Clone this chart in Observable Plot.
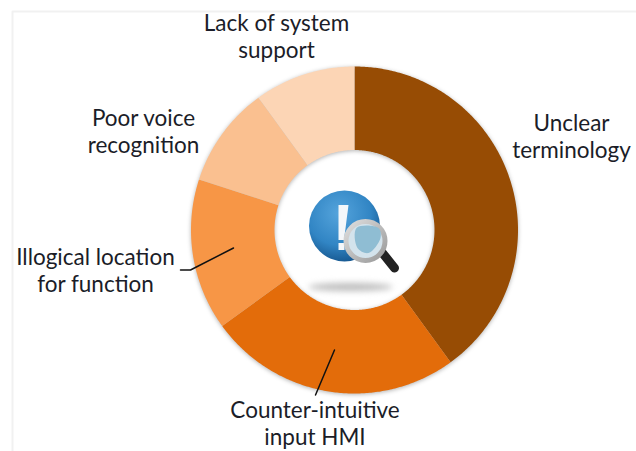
<!DOCTYPE html>
<html>
<head>
<meta charset="utf-8">
<style>html,body{margin:0;padding:0;background:#fff}svg{display:block}</style>
<script src="https://cdn.jsdelivr.net/npm/d3@7"></script>
<script src="https://cdn.jsdelivr.net/npm/@observablehq/plot@0.6"></script>
</head>
<body>
<script>
// Data
const categories = ["Unclear terminology","Counter-intuitive input HMI","Illogical location for function","Poor voice recognition","Lack of system support"];
const shares = [40,25,15,10,10];
const labelTexts = ["Unclear\nterminology","Counter-intuitive\ninput HMI","Illogical location\nfor function","Poor voice\nrecognition","Lack of system\nsupport"];
const sliceColors = ["#974C04","#E36C0A","#F79646","#FAC090","#FCD5B5"];

// Layout: chart units are pixels relative to the ring's centre
const W = 636, H = 451, CX = 354, CY = 229.5, R0 = 80, R1 = 163.5;
const labelX = [217,-39.5,-259,-211,-78];
const labelY = [-94,193,40,-99,-194];
const polar = (r, a) => ({x: r*Math.sin(a), y: -r*Math.cos(a)});

const arcs = d3.pie().sort(null).value((d,i)=>shares[i])(categories);
const slicePoints = arcs.flatMap(arc => {
  const n = Math.max(2, Math.ceil((arc.endAngle-arc.startAngle)/0.01));
  const t = d3.range(n+1).map(i => arc.startAngle + (arc.endAngle-arc.startAngle)*i/n);
  return [...t.map(a=>polar(R1,a)), ...t.slice().reverse().map(a=>polar(R0,a))].map(p=>({...p,name:arc.data}));
});
const labels = labelTexts.map((text,i)=>({text,x:labelX[i],y:labelY[i]}));

// Leader lines
const leaders = [
  {id:"a",x:-174,y:40},{id:"a",x:-164,y:40},{id:"a",x:-121,y:18},
  {id:"b",x:-20,y:120},{id:"b",x:-39,y:165}
];
const frame = [{x:-342,y:222},{x:-342,y:-218.5},{x:282,y:-218.5}];

// Icon pieces
const ellipse = d3.range(0,361,6).map(d=>({x:-4+42*Math.cos(d*Math.PI/180),y:57+4*Math.sin(d*Math.PI/180)}));
const bang = [{x:-16,y:-25},{x:-6,y:-25},{x:-10.5,y:10},{x:-16,y:10}];
const bangDot = [{x:-16,y:13},{x:-10,y:13},{x:-10,y:20},{x:-16,y:20}];
const shield = [{x:2,y:-2},{x:24,y:-2},{x:26,y:8},{x:14,y:23},{x:3,y:18}];
const handle = [{x:28,y:23},{x:40,y:38}];

const defs = () => {
  const d = d3.create("svg:defs");
  const g = d.append("radialGradient").attr("id","orb").attr("cx","42%").attr("cy","32%").attr("r","75%");
  g.append("stop").attr("offset","0%").attr("stop-color","#55a4dc");
  g.append("stop").attr("offset","60%").attr("stop-color","#3185c4");
  g.append("stop").attr("offset","100%").attr("stop-color","#124f86");
  const l = d.append("linearGradient").attr("id","ringg").attr("x1","0").attr("y1","0").attr("x2","1").attr("y2","1");
  l.append("stop").attr("offset","0%").attr("stop-color","#dedede");
  l.append("stop").attr("offset","100%").attr("stop-color","#9a9a9a");
  return d.node();
};

const plot = Plot.plot({
  width: W, height: H, margin: 0,
  style: {background:"#fff", overflow:"visible"},
  x: {domain:[-CX,W-CX], range:[0,W], axis:null},
  y: {domain:[-CY,H-CY], range:[0,H], axis:null},
  color: {domain:categories, range:sliceColors},
  marks: [
    defs,
    Plot.line(frame,{x:"x",y:"y",stroke:"#f1f1f1",strokeWidth:2}),
    Plot.line(slicePoints,{x:"x",y:"y",z:"name",fill:"name",stroke:null,curve:"linear",
      imageFilter:"drop-shadow(0px 1px 2px rgba(0,0,0,0.3))"}),
    Plot.line(ellipse,{x:"x",y:"y",fill:"#bdbdbd",stroke:null,imageFilter:"blur(3px)"}),
    Plot.dot([{x:-10,y:-4}],{x:"x",y:"y",r:35.5,fill:"url(#orb)",stroke:null}),
    Plot.line(bang,{x:"x",y:"y",fill:"#f4f7fa",stroke:null}),
    Plot.line(bangDot,{x:"x",y:"y",fill:"#f4f7fa",stroke:null}),
    Plot.line(handle,{x:"x",y:"y",stroke:"#222",strokeWidth:9,strokeLinecap:"round"}),
    Plot.dot([{x:11,y:11}],{x:"x",y:"y",r:19.5,fill:"#d3e3ec",stroke:"url(#ringg)",strokeWidth:5}),
    Plot.line(shield,{x:"x",y:"y",fill:"#8fbdd3",stroke:null,curve:"catmull-rom-closed"}),
    Plot.line(leaders,{x:"x",y:"y",z:"id",stroke:"#111",strokeWidth:1.5}),
    Plot.text(labels,{x:"x",y:"y",text:"text",fontFamily:"Lato",fontSize:22.5,lineHeight:1.2,fill:"#1b1d28",textAnchor:"middle",lineAnchor:"middle"})
  ]
});
document.body.appendChild(plot);
</script>
</body>
</html>
